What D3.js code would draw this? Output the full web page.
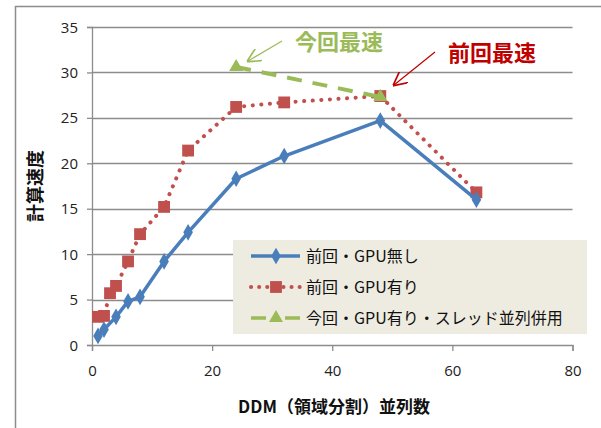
<!DOCTYPE html>
<html>
<head>
<meta charset="utf-8">
<script src="https://cdn.jsdelivr.net/npm/d3@7"></script>
<style>
  body { margin: 0; background: #fff; }
  svg { display: block; font-family: "Noto Sans CJK JP", "Noto Sans", sans-serif; }
</style>
</head>
<body>
<div class="chart"></div>
<script>
// data
const xNoGpu = [1, 2, 4, 6, 8, 12, 16, 24, 32, 48, 64];
const yNoGpu = [1.0, 1.7, 3.1, 4.8, 5.3, 9.2, 12.4, 18.3, 20.8, 24.7, 16.0];

const xGpu = [1, 2, 3, 4, 6, 8, 12, 16, 24, 32, 48, 64];
const yGpu = [3.1, 3.2, 5.7, 6.5, 9.2, 12.2, 15.2, 21.4, 26.2, 26.7, 27.4, 16.8];

const xThread = [24, 48];
const yThread = [30.6, 27.3];

const seriesNames = ["前回・GPU無し", "前回・GPU有り", "今回・GPU有り・スレッド並列併用"];
const xTicks = [0, 20, 40, 60, 80];
const yTicks = [0, 5, 10, 15, 20, 25, 30, 35];

const width = 601, height = 428;
const margin = { top: 27, left: 92, bottom: 83, right: 28 }

const svg = d3.select(".chart").append("svg")
    .attr("width", width)
    .attr("height", height)

// outer chart border (cropped at right/bottom)
svg.append("rect")
    .attr("x", 15.5).attr("y", 6.5)
    .attr("width", 620).attr("height", 440)
    .attr("fill", "none")
    .attr("stroke", "#8c8c8c")
    .attr("stroke-width", 1.5)

const x = d3.scaleLinear()
    .domain([0, 80])
    .range([margin.left, width - margin.right - 0.5])

const y = d3.scaleLinear()
    .domain([0, 35])
    .range([height - margin.bottom, margin.top])

//GRIDLINES
svg.append("g")
    .selectAll("line")
    .data(yTicks.filter(d => d > 0))
    .join("line")
    .attr("x1", x(0)).attr("x2", x(80))
    .attr("y1", d => Math.round(y(d)) + 0.5)
    .attr("y2", d => Math.round(y(d)) + 0.5)
    .attr("stroke", "#8c8c8c")
    .attr("stroke-width", 1.3)

//AXES
const yAxis = d3.axisLeft(y).tickValues(yTicks).tickSize(5).tickPadding(9)
const xAxis = d3.axisBottom(x).tickValues(xTicks).tickSize(6).tickPadding(14)

const gy = svg.append("g")
    .attr("transform", `translate(${x(0)},0)`)
    .call(yAxis)

const gx = svg.append("g")
    .attr("transform", `translate(0,${y(0)})`)
    .call(xAxis)

for (const g of [gx, gy]) {
    g.select(".domain").attr("stroke", "#8c8c8c").attr("stroke-width", 1.3)
    g.selectAll(".tick line").attr("stroke", "#8c8c8c").attr("stroke-width", 1.3)
    g.selectAll(".tick text")
        .attr("fill", "#222")
        .style("font-family", "'Open Sans', 'Noto Sans', sans-serif")
        .style("font-size", "15px")
}
gy.selectAll(".tick text").attr("dy", "0.34em")

//AXIS TITLES
svg.append("text")
    .attr("x", 334).attr("y", 413)
    .attr("text-anchor", "middle")
    .style("font-size", "17px")
    .style("font-weight", "bold")
    .attr("fill", "#111")
    .text("DDM（領域分割）並列数")

svg.append("text")
    .attr("transform", "translate(42,186) rotate(-90)")
    .attr("text-anchor", "middle")
    .style("font-size", "18px")
    .style("font-weight", "bold")
    .attr("fill", "#111")
    .text("計算速度")

//SERIES
const line = d3.line()
    .x(d => x(d[0]))
    .y(d => y(d[1]))

const blue = "#4a7ebb", red = "#c0504d", green = "#9bbb59";

const dNoGpu = xNoGpu.map((v, i) => [v, yNoGpu[i]]);
const dGpu = xGpu.map((v, i) => [v, yGpu[i]]);
const dThread = xThread.map((v, i) => [v, yThread[i]]);

const diamond = d3.symbol().type(d3.symbolDiamond).size(80)
const square = d3.symbol().type(d3.symbolSquare).size(140)
const triangle = d3.symbol().type(d3.symbolTriangle).size(85)

function drawSeries(data, color, dash, width, cap, sym) {
    const g = svg.append("g")
    g.append("path")
        .datum(data)
        .attr("fill", "none")
        .attr("stroke", color)
        .attr("stroke-width", width)
        .attr("stroke-dasharray", dash)
        .attr("stroke-linecap", cap)
        .attr("stroke-linejoin", "round")
        .attr("d", line)
    g.selectAll(".m")
        .data(data)
        .join("path")
        .attr("transform", d => `translate(${x(d[0])},${y(d[1])})`)
        .attr("d", sym)
        .attr("fill", color)
}

drawSeries(dGpu, red, "0.1,8.5", 4, "round", square)
drawSeries(dNoGpu, blue, null, 3.5, "butt", diamond)
drawSeries(dThread, green, "15,11", 4, "butt", triangle)

//ANNOTATIONS
const defs = svg.append("defs")
function arrowHead(id, color) {
    defs.append("marker")
        .attr("id", id)
        .attr("viewBox", "0 0 10 10")
        .attr("refX", 9).attr("refY", 5)
        .attr("markerWidth", 14).attr("markerHeight", 14)
        .attr("markerUnits", "userSpaceOnUse")
        .attr("orient", "auto")
        .append("path")
        .attr("d", "M0,0 L10,5 L0,10")
        .attr("fill", "none")
        .attr("stroke", color)
        .attr("stroke-width", 1.2)
}
arrowHead("ag", green)
arrowHead("ar", "#c00000")

svg.append("line")
    .attr("x1", 282).attr("y1", 41).attr("x2", 248).attr("y2", 61)
    .attr("stroke", green).attr("stroke-width", 1.2)
    .attr("marker-end", "url(#ag)")

svg.append("line")
    .attr("x1", 435).attr("y1", 52).attr("x2", 394).attr("y2", 85)
    .attr("stroke", "#c00000").attr("stroke-width", 1.2)
    .attr("marker-end", "url(#ar)")

svg.append("text")
    .attr("x", 295).attr("y", 50)
    .style("font-size", "22px").style("font-weight", "bold")
    .attr("fill", green)
    .text("今回最速")

svg.append("text")
    .attr("x", 448).attr("y", 61)
    .style("font-size", "22px").style("font-weight", "bold")
    .attr("fill", "#c00000")
    .text("前回最速")

//LEGEND
const legend = svg.append("g").attr("transform", "translate(233,240)")
legend.append("rect")
    .attr("width", 354).attr("height", 94)
    .attr("fill", "#eeece1")

const legendStyles = [
    { color: blue, dash: null, w: 3.5, cap: "butt", sym: diamond },
    { color: red, dash: "0.1,8", w: 4, cap: "round", sym: square },
    { color: green, dash: null, w: 3.5, cap: "butt", sym: triangle }
]

seriesNames.forEach((name, i) => {
    const s = legendStyles[i]
    const row = legend.append("g").attr("transform", `translate(0,${16 + i * 31})`)
    const segs = i === 2 ? [[18, 33], [52, 67]] : [[18, 67]]
    segs.forEach(sg => row.append("line")
        .attr("x1", sg[0]).attr("x2", sg[1])
        .attr("stroke", s.color)
        .attr("stroke-width", s.w)
        .attr("stroke-dasharray", s.dash)
        .attr("stroke-linecap", s.cap))
    row.append("path")
        .attr("transform", "translate(43,0)")
        .attr("d", s.sym)
        .attr("fill", s.color)
    row.append("text")
        .attr("x", 73).attr("y", 0).attr("dy", "0.36em")
        .style("font-size", "16px")
        .attr("fill", "#111")
        .text(name)
})
</script>
</body>
</html>
